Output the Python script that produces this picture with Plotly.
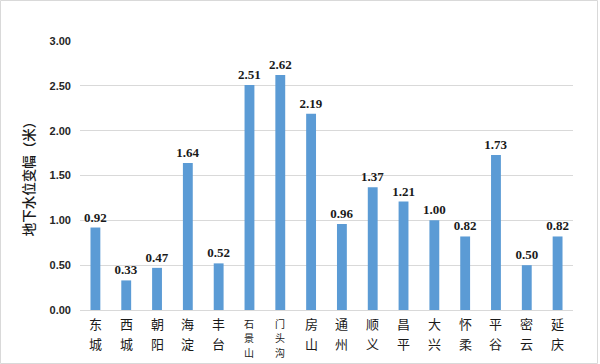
import plotly.graph_objects as go

districts = ["东城", "西城", "朝阳", "海淀", "丰台", "石景山", "门头沟", "房山",
             "通州", "顺义", "昌平", "大兴", "怀柔", "平谷", "密云", "延庆"]
values = [0.92, 0.33, 0.47, 1.64, 0.52, 2.51, 2.62, 2.19,
          0.96, 1.37, 1.21, 1.00, 0.82, 1.73, 0.50, 0.82]
y_ticks = [0, 0.5, 1.0, 1.5, 2.0, 2.5, 3.0]
y_title = "地下水位变幅（米）"

fig = go.Figure(go.Bar(
    x=districts, y=values,
    marker=dict(color="#5B9BD5", line=dict(width=0)),
    texttemplate="%{y:.2f}", textposition="outside", cliponaxis=False,
    constraintext="none",
    textfont=dict(family="Liberation Serif", size=13, color="#1a1a1a",
                  weight="bold"),
))

annotations = []
for d in districts:
    two = len(d) == 2
    step = 20 if two else 14.8
    fsize = 13 if two else 10
    for i, ch in enumerate(d):
        annotations.append(dict(
            x=d, y=0, xref="x", yref="y", text=ch, showarrow=False,
            yanchor="middle", yshift=-(13 + i * step), borderpad=0,
            font=dict(family="Noto Sans CJK SC", size=fsize, color="#1a1a1a"),
        ))

fig.update_layout(
    width=600, height=364,
    margin=dict(l=80, r=27, t=41, b=54),
    paper_bgcolor="white", plot_bgcolor="white",
    bargap=0.68,
    showlegend=False,
    annotations=annotations,
    shapes=[dict(type="rect", xref="paper", yref="paper",
                 x0=-79.5/493, x1=517.5/493, y0=-53.5/269, y1=(269+40.5)/269,
                 line=dict(color="#D9D9D9", width=1), fillcolor="rgba(0,0,0,0)",
                 layer="below")],
    xaxis=dict(showticklabels=False, showline=True, linecolor="#D9D9D9",
               linewidth=1, ticks="", showgrid=False),
    yaxis=dict(range=[0, 3], tickvals=y_ticks, tickformat=".2f",
               showgrid=True, gridcolor="#D9D9D9", gridwidth=1,
               zeroline=False, showline=False, ticks="",
               ticklabelstandoff=8,
               tickfont=dict(family="Liberation Sans", size=11, color="#262626",
                             weight="bold"),
               title=dict(text=y_title, standoff=11,
                          font=dict(family="Noto Sans CJK SC", size=13.5,
                                    color="#1a1a1a", weight=500))),
)

fig.write_html("out.html", config={"displayModeBar": False},
               post_script="document.body.style.margin='0';document.body.style.overflow='hidden';")
